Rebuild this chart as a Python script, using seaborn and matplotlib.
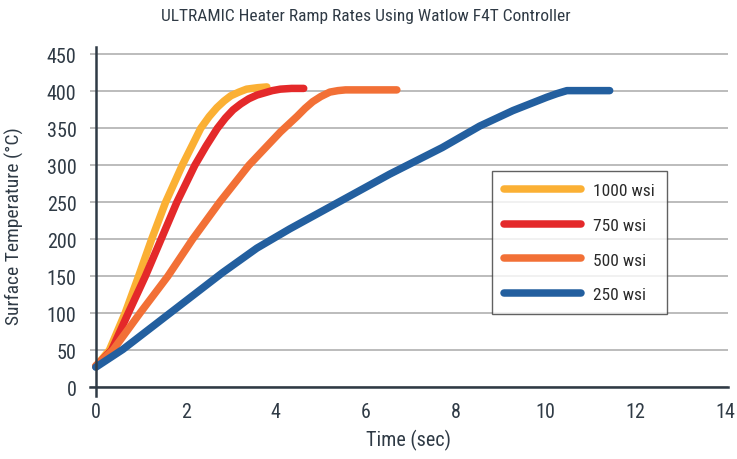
import numpy as np
import pandas as pd
import matplotlib
matplotlib.use("Agg")
import matplotlib.pyplot as plt
import seaborn as sns

# Data (time in sec, surface temperature in deg C)
t_1000 = [0.0, 0.3, 0.65, 0.95, 1.24, 1.55, 1.92, 2.15, 2.33, 2.52, 2.69, 2.85, 3.0, 3.18, 3.35, 3.6, 3.8]
temp_1000 = [28, 50, 100, 150, 200, 250, 300, 328, 350, 366, 378, 387, 394, 399, 403, 405, 406]

t_750 = [0.0, 0.35, 0.72, 1.1, 1.45, 1.8, 2.2, 2.45, 2.7, 2.88, 3.05, 3.22, 3.4, 3.58, 3.75, 3.92, 4.1, 4.35, 4.62]
temp_750 = [28, 50, 100, 150, 200, 250, 300, 326, 350, 364, 375, 383, 390, 395, 398, 401, 403, 404, 404]

t_500 = [0.0, 0.38, 0.98, 1.6, 2.15, 2.75, 3.4, 4.1, 4.47, 4.65, 4.82, 5.0, 5.2, 5.38, 5.55, 6.69]
temp_500 = [29, 50, 100, 150, 200, 250, 300, 345, 366, 377, 386, 393, 399, 401, 402, 402]

t_250 = [0.0, 0.6, 1.71, 2.82, 3.58, 4.31, 5.0, 5.42, 6.53, 7.7, 8.53, 9.27, 10.02, 10.25, 10.47, 11.42]
temp_250 = [27, 51, 103, 155, 188, 214, 237, 251, 288, 324, 353, 374, 392, 397, 401, 401]

series_names = ["1000 wsi", "750 wsi", "500 wsi", "250 wsi"]
series_colors = ["#FBB034", "#E4292A", "#F27036", "#235F9F"]

x_ticks = [0, 2, 4, 6, 8, 10, 12, 14]
y_ticks = [0, 50, 100, 150, 200, 250, 300, 350, 400, 450]

frames = []
for name, t, v in zip(series_names, [t_1000, t_750, t_500, t_250],
                      [temp_1000, temp_750, temp_500, temp_250]):
    frames.append(pd.DataFrame({"time": t, "temp": v, "series": name}))
df = pd.concat(frames, ignore_index=True)

sns.set_theme(style="white")
plt.rcParams["font.family"] = ["Roboto Condensed", "Liberation Sans Narrow", "Roboto", "DejaVu Sans"]
text_color = "#2F3A45"

fig = plt.figure(figsize=(7.37, 4.60), dpi=100)
ax = fig.add_axes([90 / 737, 63 / 460, (728 - 90) / 737, (397 - 48) / 460])

sns.lineplot(data=df, x="time", y="temp", hue="series", hue_order=series_names,
             palette=dict(zip(series_names, series_colors)), linewidth=5.4,
             sort=False, estimator=None, solid_capstyle="round",
             solid_joinstyle="round", ax=ax, zorder=3)

ax.set_xlim(-0.13, 14.05)
ax.set_ylim(-12, 460)
ax.set_xticks(x_ticks)
ax.set_yticks(y_ticks)

# horizontal grid only
ax.yaxis.grid(True, color="#A9A9A9", linewidth=1.1)
ax.xaxis.grid(False)
ax.set_axisbelow(True)

for side in ["top", "right"]:
    ax.spines[side].set_visible(False)
ax.spines["left"].set_position(("data", 0))
ax.spines["bottom"].set_position(("data", 0))
for side in ["left", "bottom"]:
    ax.spines[side].set_color(text_color)
    ax.spines[side].set_linewidth(1.8)
    ax.spines[side].set_zorder(4)

ax.tick_params(axis="x", direction="out", length=3.5, width=1.2, color=text_color,
               labelsize=14.5, labelcolor=text_color, pad=7)
ax.tick_params(axis="y", direction="out", length=0, labelsize=14.5,
               labelcolor=text_color, pad=14)

ax.set_xlabel("Time (sec)", fontsize=14.5, color=text_color)
ax.set_ylabel("Surface Temperature (°C)", fontsize=14, color=text_color)
ax.xaxis.set_label_coords(0.5, -0.095)
ax.yaxis.set_label_coords(-0.103, 0.49)

fig.text(0.497, 1 - 17 / 460, "ULTRAMIC Heater Ramp Rates Using Watlow F4T Controller",
         ha="center", va="center", fontsize=12.5, color=text_color)

leg = ax.legend(loc="upper left", bbox_to_anchor=(492 / 737, 1 - 172 / 460),
                bbox_transform=fig.transFigure, borderaxespad=0, frameon=True,
                fancybox=False, fontsize=12.5, handlelength=4.4, handletextpad=0.7,
                labelspacing=1.12, borderpad=0.7, title=None)
leg.get_frame().set_edgecolor("#3A3A3A")
leg.get_frame().set_linewidth(1.0)
for line in leg.get_lines():
    line.set_linewidth(5.4)
    line.set_solid_capstyle("round")
for txt in leg.get_texts():
    txt.set_color("#2A2A2A")

fig.savefig("out.png", dpi=100)
